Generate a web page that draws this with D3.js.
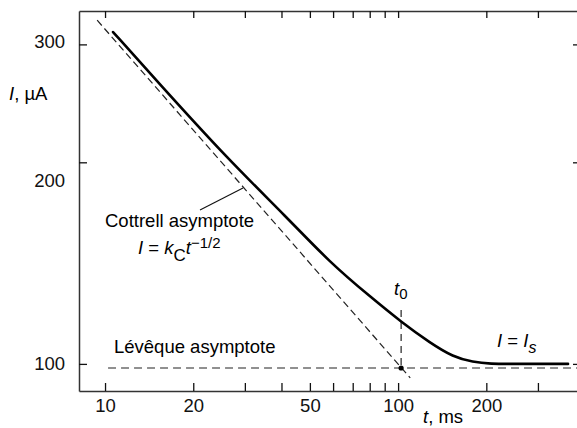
<!DOCTYPE html>
<html>
<head>
<meta charset="utf-8">
<script src="https://cdn.jsdelivr.net/npm/d3@7"></script>
<style>
  body { margin: 0; background: #fff; }
  svg { display: block; font-family: "Liberation Sans", Arial, sans-serif; }
</style>
</head>
<body>
<div id="chart"></div>
<script>
const width = 577;
const height = 428;
const margin = { top: 11, right: -1, bottom: 37, left: 79 };

// current transient
const timeMs = [10.65, 15.05, 26.1, 41.8, 58.6, 80.3, 103.2, 128.6, 154.1, 180.3, 206, 250, 380];
const currentUA = [313, 264.4, 202.7, 165.4, 141.6, 126.0, 115.2, 107.5, 102.4, 100.6, 100, 100, 100];

// asymptotes (end points)
const cottrellT = [9.4, 110];
const cottrellI = [326, 95.3];
const leveqT = [10.24, 420];
const leveqI = [98.6, 98.6];

// t0 marker
const t0 = 102.4;
const t0Top = 120.4;

const xMajor = [10, 20, 50, 100, 200];
const xMinor = [30, 40, 60, 70, 80, 90, 300];
const yTicks = [100, 200, 300];

const fontSize = 18.5;

const x = d3.scaleLog()
  .domain([8.15, 411])
  .range([margin.left, width - margin.right]);

const y = d3.scaleLog()
  .domain([91.1, 336.5])
  .range([height - margin.bottom, margin.top]);

const svg = d3.select('#chart')
  .append('svg')
  .attr('width', width)
  .attr('height', height)
  .style('font-size', fontSize + 'px');

const styleAxis = g => {
  g.attr('font-size', null).attr('font-family', null);
  g.select('.domain').attr('stroke', '#333').attr('stroke-width', 1.5);
  g.selectAll('.tick line').attr('stroke', '#111').attr('stroke-width', 1.3);
  g.selectAll('.tick text').attr('fill', '#111');
};

const xTicks = xMajor.concat(xMinor);

svg.append('g')
  .attr('transform', `translate(0,${height - margin.bottom})`)
  .call(d3.axisBottom(x).tickValues(xTicks).tickSize(-8).tickSizeOuter(0)
    .tickPadding(8).tickFormat(d => xMajor.includes(d) ? d : ''))
  .call(styleAxis);

svg.append('g')
  .attr('transform', `translate(0,${margin.top})`)
  .call(d3.axisTop(x).tickValues(xTicks).tickSize(-7).tickSizeOuter(0).tickFormat(''))
  .call(styleAxis);

svg.append('g')
  .attr('transform', `translate(${margin.left},0)`)
  .call(d3.axisLeft(y).tickValues(yTicks).tickSize(-8).tickSizeOuter(0).tickPadding(14)
    .tickFormat(d3.format('d')))
  .call(styleAxis)
  .call(g => g.selectAll('.tick text')
    .attr('dy', d => d === 200 ? '1.3em' : d === 300 ? '0.18em' : '0.32em'));

svg.append('g')
  .attr('transform', `translate(${width - margin.right},0)`)
  .call(d3.axisRight(y).tickValues(yTicks).tickSize(-5).tickSizeOuter(0).tickFormat(''))
  .call(styleAxis);

const line = d3.line()
  .x(d => x(d[0]))
  .y(d => y(d[1]));

// asymptotes
svg.append('path')
  .datum(d3.zip(cottrellT, cottrellI))
  .attr('d', line)
  .attr('fill', 'none')
  .attr('stroke', '#222')
  .attr('stroke-width', 1.2)
  .attr('stroke-dasharray', '7,4');

svg.append('path')
  .datum(d3.zip(leveqT, leveqI))
  .attr('d', line)
  .attr('fill', 'none')
  .attr('stroke', '#222')
  .attr('stroke-width', 1.2)
  .attr('stroke-dasharray', '8,5');

svg.append('path')
  .datum([[t0, t0Top], [t0, leveqI[0]]])
  .attr('d', line)
  .attr('fill', 'none')
  .attr('stroke', '#222')
  .attr('stroke-width', 1.2)
  .attr('stroke-dasharray', '7,5');

svg.append('circle')
  .attr('cx', x(t0))
  .attr('cy', y(leveqI[0]))
  .attr('r', 2.6)
  .attr('fill', '#000');

// measured curve
svg.append('path')
  .datum(d3.zip(timeMs, currentUA))
  .attr('d', d3.line().x(d => x(d[0])).y(d => y(d[1])).curve(d3.curveBasis))
  .attr('fill', 'none')
  .attr('stroke', '#000')
  .attr('stroke-width', 2.6)
  .attr('stroke-linecap', 'round');

// leader line for Cottrell label
svg.append('line')
  .attr('x1', 200).attr('y1', 210)
  .attr('x2', 243).attr('y2', 188)
  .attr('stroke', '#111')
  .attr('stroke-width', 1.1);

// texts
svg.append('text')
  .attr('x', 9).attr('y', 100)
  .html('<tspan font-style="italic">I</tspan>, µA');

svg.append('text')
  .attr('x', 423).attr('y', 423)
  .html('<tspan font-style="italic">t</tspan>, ms');

svg.append('text')
  .attr('x', 105).attr('y', 227)
  .text('Cottrell asymptote');

const formula = svg.append('text').attr('x', 138).attr('y', 254);
formula.append('tspan').attr('font-style', 'italic').text('I');
formula.append('tspan').text(' = ');
formula.append('tspan').attr('font-style', 'italic').text('k');
formula.append('tspan').attr('dy', 7).attr('font-size', 17).text('C');
formula.append('tspan').attr('dy', -7).attr('font-style', 'italic').text('t');
formula.append('tspan').attr('dy', -6).attr('font-size', 15).text('−1/2');

svg.append('text')
  .attr('x', 114).attr('y', 353)
  .text('Lévêque asymptote');

const t0Label = svg.append('text').attr('x', 394).attr('y', 295);
t0Label.append('tspan').attr('font-style', 'italic').text('t');
t0Label.append('tspan').attr('dy', 4).attr('font-size', 15).text('0');

const isLabel = svg.append('text').attr('x', 497).attr('y', 347);
isLabel.append('tspan').attr('font-style', 'italic').text('I');
isLabel.append('tspan').text(' = ');
isLabel.append('tspan').attr('font-style', 'italic').text('I');
isLabel.append('tspan').attr('dy', 6).attr('font-size', 16).attr('font-style', 'italic').text('s');
</script>
</body>
</html>
